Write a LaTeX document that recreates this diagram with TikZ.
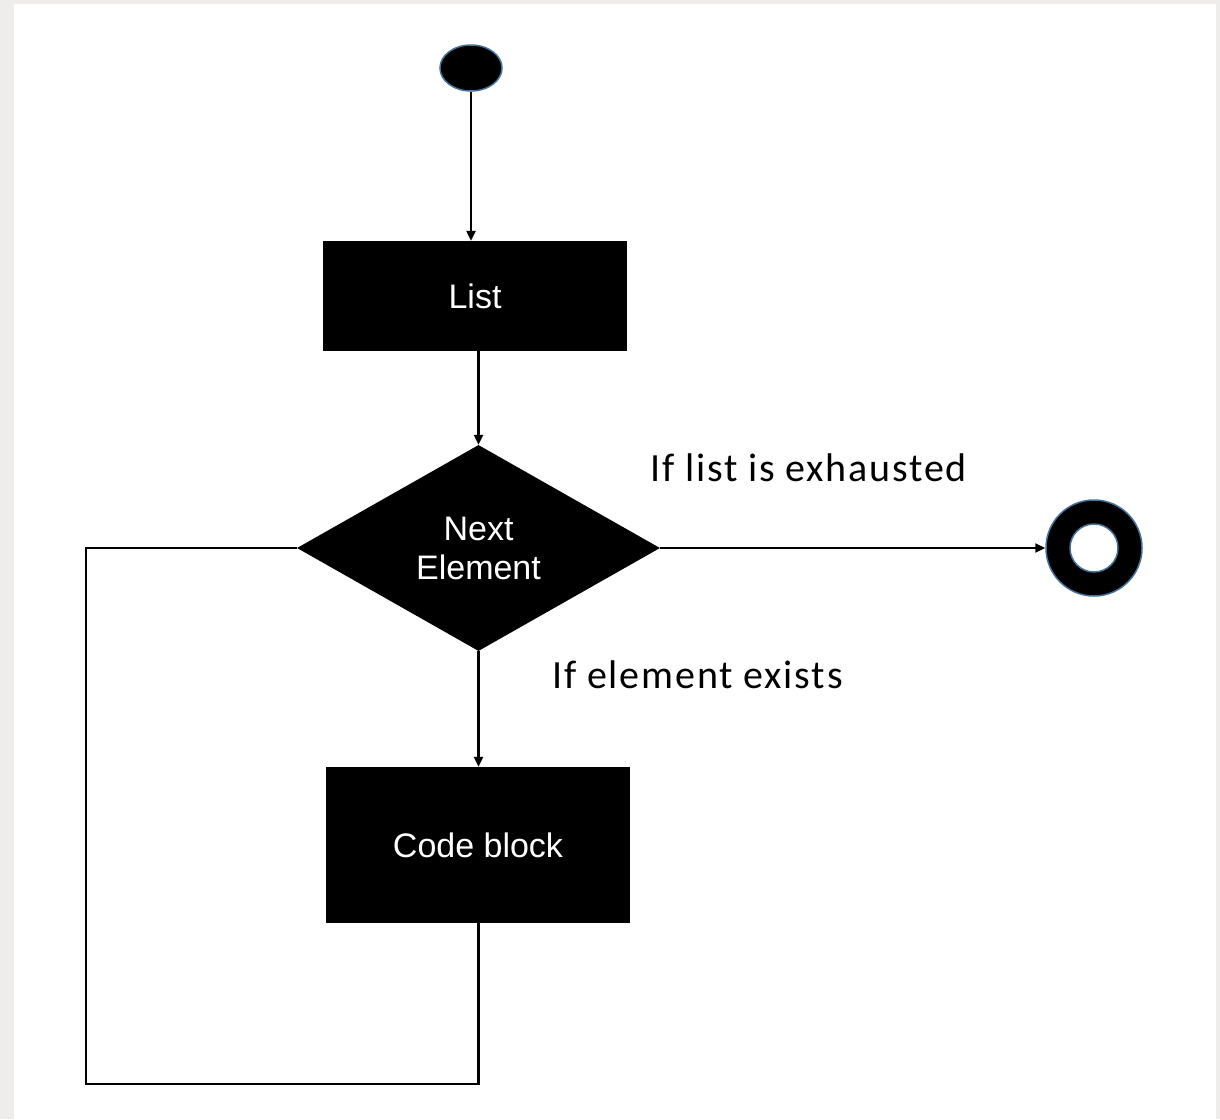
\documentclass[tikz,border=0pt]{standalone}
\usepackage{fontspec}
\setmainfont{Liberation Sans}
\newfontfamily\labelfont[LetterSpace=4.5]{Carlito}
\usetikzlibrary{shapes.geometric,arrows.meta}
\definecolor{pagegray}{HTML}{EFEDEB}
\definecolor{rimblue}{HTML}{41719C}
\tikzset{
  boxnode/.style={rectangle, fill=black, text=white, inner sep=0pt, font=\fontsize{34}{38}\selectfont},
  decnode/.style={diamond, fill=black, text=white, inner sep=0pt, align=center, font=\fontsize{34}{39}\selectfont},
  flow/.style={line width=2.2pt, draw=black},
  arrowline/.style={flow, -{Triangle[length=10pt,width=9pt]}},
  condlabel/.style={anchor=west, inner sep=0pt, font=\labelfont\fontsize{40}{44}\selectfont}
}
\begin{document}
\begin{tikzpicture}[x=1pt,y=-1pt]
  % page background and canvas
  \fill[pagegray] (0,0) rectangle (1220,1119);
  \fill[white] (14,4) rectangle (1216,1119);
  \useasboundingbox (0,0) rectangle (1220,1119);

  % nodes
  \node[ellipse, fill=black, draw=rimblue, line width=1.5pt, minimum width=62pt, minimum height=46pt, inner sep=0pt] (start) at (471,68) {};
  \node[boxnode, minimum width=304pt, minimum height=110pt] (list) at (475,296) {List};
  \node[decnode, minimum width=363pt, minimum height=206pt] (dec) at (478.5,548) {Next\\Element};
  \node[boxnode, minimum width=304pt, minimum height=156pt] (code) at (478,845) {Code block};
  \node[circle, fill=black, draw=rimblue, line width=1.5pt, minimum size=96pt, inner sep=0pt] (endouter) at (1094,548) {};
  \node[circle, fill=white, draw=rimblue, line width=1.5pt, minimum size=48pt, inner sep=0pt] (endinner) at (endouter.center) {};

  % condition labels
  \node[condlabel] (exhausted) at (650,468) {If list is exhausted};
  \node[condlabel] (exists) at (552,675) {If element exists};

  % loop-back corners
  \coordinate (loopbottomleft) at (86,1084);
  \coordinate (loopleft) at (86,548);

  % connectors
  \draw[arrowline] (start.south) -- (start.south |- list.north);
  \draw[arrowline] (dec.north |- list.south) -- (dec.north);
  \draw[arrowline] (dec.east) -- (endouter.west);
  \draw[arrowline] (dec.south) -- (dec.south |- code.north);
  \draw[flow] (dec.south |- code.south) -- (dec.south |- loopbottomleft) -- (loopbottomleft) -- (loopleft) -- (dec.west);
\end{tikzpicture}
\end{document}
